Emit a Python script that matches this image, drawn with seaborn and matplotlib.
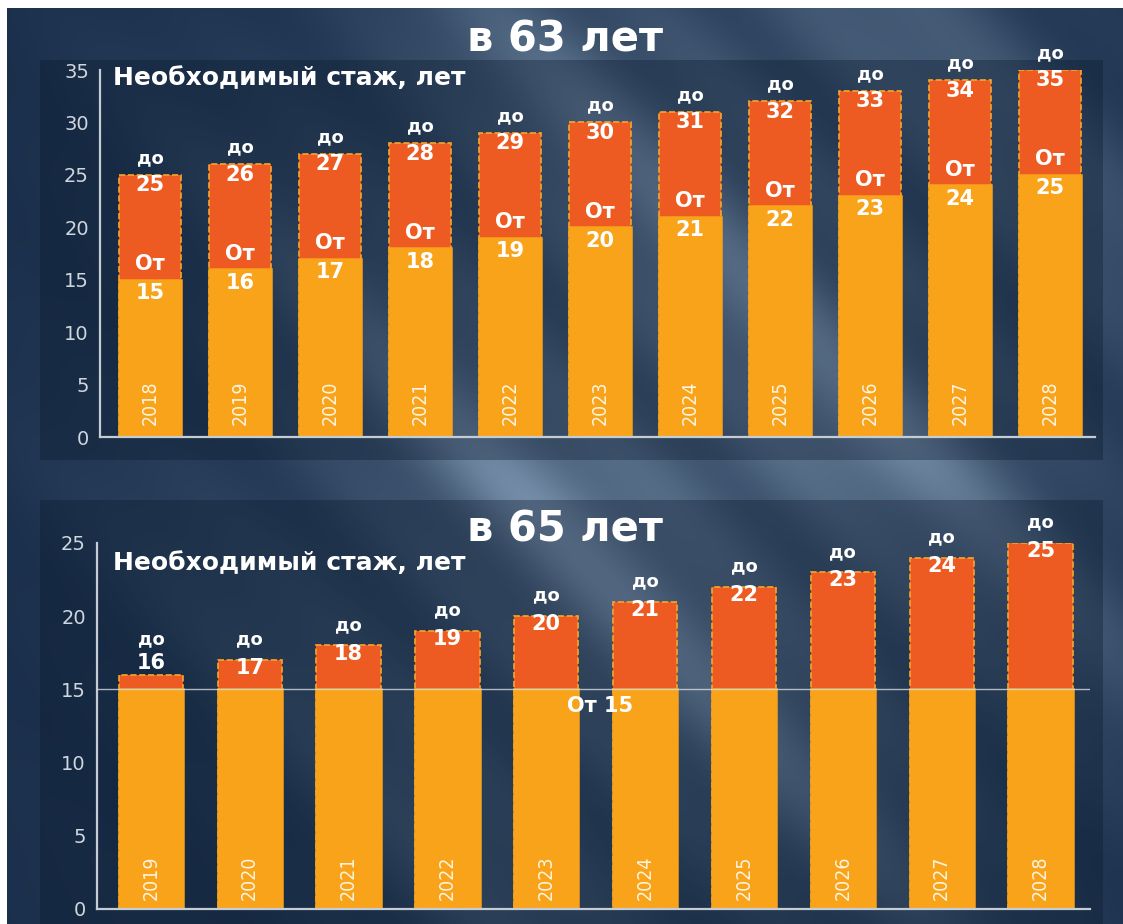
import seaborn as sns
import matplotlib.pyplot as plt
import pandas as pd
import numpy as np
from matplotlib.patches import Rectangle

# данные: необходимый стаж (от / до) по годам
years_63 = ['2018', '2019', '2020', '2021', '2022', '2023', '2024', '2025', '2026', '2027', '2028']
from_63 = [15, 16, 17, 18, 19, 20, 21, 22, 23, 24, 25]
to_63 = [25, 26, 27, 28, 29, 30, 31, 32, 33, 34, 35]

years_65 = ['2019', '2020', '2021', '2022', '2023', '2024', '2025', '2026', '2027', '2028']
from_65 = [15, 15, 15, 15, 15, 15, 15, 15, 15, 15]
to_65 = [16, 17, 18, 19, 20, 21, 22, 23, 24, 25]

YEL = '#F8A31A'
RED = '#EE5B22'
EDGE = '#F6A62A'
AXC = '#c5ccd3'
LBL = '#cfd6dd'

sns.set_style('white')
plt.rcParams['font.family'] = ['DejaVu Sans']

W, H = 1123, 924
fig = plt.figure(figsize=(W / 100, H / 100), dpi=100)
fig.patch.set_facecolor('white')

# фон: тёмно-синий с диагональными светлыми полосами
bg = fig.add_axes([7 / W, 0, 1 - 7 / W, 1 - 8 / H], zorder=0)
bg.axis('off')
yy, xx = np.mgrid[0:1:400j, 0:1:480j]
glow = np.exp(-(((xx - 0.62) / 0.38) ** 2 + ((yy - 0.45) / 0.6) ** 2))
diag = xx - 0.8 * yy
stripes = 0.5 + 0.5 * np.sin(diag * 2 * np.pi * 2.6 + 1.0)
stripes2 = 0.5 + 0.5 * np.sin(diag * 2 * np.pi * 7.3 + 0.3)
t = 0.05 + glow * (0.3 + 0.4 * stripes ** 2 + 0.15 * stripes2)
t = np.clip(t, 0, 1)
dark = np.array([0.07, 0.15, 0.26])
light = np.array([0.58, 0.68, 0.78])
img = dark + t[..., None] * (light - dark)
bg.imshow(img, aspect='auto', extent=[0, 1, 0, 1])

# затемнённые подложки под графиками
for (x0, y0, x1, y1) in [(40, 60, 1103, 460), (40, 500, 1103, 924)]:
    fig.add_artist(Rectangle((x0 / W, 1 - y1 / H), (x1 - x0) / W, (y1 - y0) / H,
                             transform=fig.transFigure, color='#0a1a2e',
                             alpha=0.35, lw=0, zorder=0.5))


def style_axes(ax, n, left, right, ymax, ticklen):
    ax.patch.set_visible(False)
    ax.set_xlim(left, right)
    ax.set_ylim(0, ymax)
    ax.set_yticks(np.arange(0, ymax + 1, 5))
    ax.set_xticks(np.arange(0.5, n, 1))
    ax.set_xticklabels([])
    ax.set_xlabel('')
    ax.set_ylabel('')
    for s in ['top', 'right']:
        ax.spines[s].set_visible(False)
    for s in ['left', 'bottom']:
        ax.spines[s].set_color(AXC)
        ax.spines[s].set_linewidth(1.6)
    ax.tick_params(axis='y', direction='in', length=ticklen, width=1.6, color=AXC,
                   labelcolor=LBL, labelsize=14, pad=8)
    ax.tick_params(axis='x', direction='in', length=6, width=1.6, color=AXC,
                   labelbottom=False)


def white(ax, x, y, s, size, **kw):
    ax.text(x, y, s, ha='center', va='center', color='white', fontsize=size,
            fontweight='bold', zorder=5, **kw)


def year_label(ax, x, y, s, size):
    ax.text(x, y, s, rotation=90, ha='center', va='bottom', color='#fff4e0',
            fontsize=size, fontstretch='condensed',
            family=['DejaVu Sans'], zorder=5)


# ---------- в 63 лет ----------
df63 = pd.DataFrame({'year': years_63, 'from': from_63, 'to': to_63})
ax1 = fig.add_axes([100 / W, 1 - 437 / H, 995 / W, 367 / H], zorder=1)
sns.barplot(data=df63, x='year', y='to', color=RED, width=0.68, saturation=1,
            edgecolor=EDGE, linewidth=1.2, linestyle='--', ax=ax1)
sns.barplot(data=df63, x='year', y='from', color=YEL, width=0.68, saturation=1,
            edgecolor=YEL, linewidth=1.8, ax=ax1)
style_axes(ax1, len(years_63), -0.556, 10.5, 35, 18)
for i, (y, a, b) in enumerate(zip(years_63, from_63, to_63)):
    white(ax1, i, b + 1.6, 'до', 13)
    white(ax1, i, b - 1.0, str(b), 15)
    white(ax1, i, a + 1.5, 'От', 15)
    white(ax1, i, a - 1.3, str(a), 15)
    year_label(ax1, i, 1.1, y, 14)

fig.text(565 / W, 1 - 40 / H, 'в 63 лет', ha='center', va='center', color='white',
         fontsize=30, fontweight='bold', zorder=3)
fig.text(113 / W, 1 - 78 / H, 'Необходимый стаж, лет', ha='left', va='center',
         color='white', fontsize=18, fontweight='bold', zorder=3)

# ---------- в 65 лет ----------
df65 = pd.DataFrame({'year': years_65, 'from': from_65, 'to': to_65})
ax2 = fig.add_axes([97 / W, 1 - 909 / H, 993 / W, 366 / H], zorder=1)
sns.barplot(data=df65, x='year', y='to', color=RED, width=0.65, saturation=1,
            edgecolor=EDGE, linewidth=1.2, linestyle='--', ax=ax2)
sns.barplot(data=df65, x='year', y='from', color=YEL, width=0.65, saturation=1,
            edgecolor=YEL, linewidth=1.8, ax=ax2)
style_axes(ax2, len(years_65), -0.545, 9.48, 25, 17)
ax2.axhline(15, color='#d5dbe1', lw=1, alpha=0.8, zorder=4)
for i, (y, a, b) in enumerate(zip(years_65, from_65, to_65)):
    if b - a < 2:
        white(ax2, i, b + 2.4, 'до', 13)
        white(ax2, i, b + 0.8, str(b), 15)
    else:
        white(ax2, i, b + 1.4, 'до', 13)
        white(ax2, i, b - 0.55, str(b), 15)
    year_label(ax2, i, 0.6, y, 14)
white(ax2, 4.54, 13.9, 'От ' + str(from_65[0]), 15)

fig.text(565 / W, 1 - 530 / H, 'в 65 лет', ha='center', va='center', color='white',
         fontsize=30, fontweight='bold', zorder=3)
fig.text(113 / W, 1 - 563 / H, 'Необходимый стаж, лет', ha='left', va='center',
         color='white', fontsize=18, fontweight='bold', zorder=3)

fig.savefig('out.png', dpi=100, facecolor=fig.get_facecolor())
